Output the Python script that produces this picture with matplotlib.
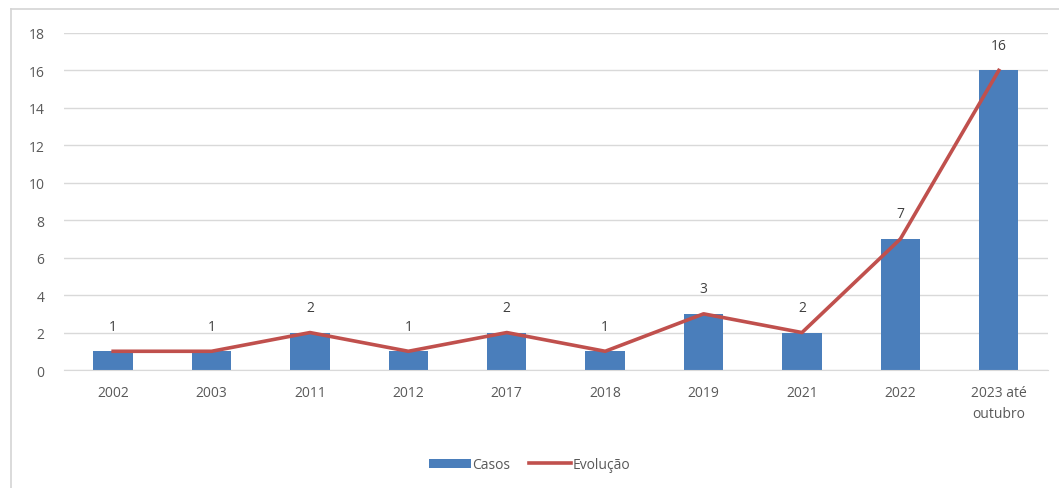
import matplotlib.pyplot as plt
from matplotlib.lines import Line2D

anos = ['2002', '2003', '2011', '2012', '2017', '2018', '2019', '2021', '2022', '2023 até\noutubro']
casos = [1, 1, 2, 1, 2, 1, 3, 2, 7, 16]
y_ticks = [0, 2, 4, 6, 8, 10, 12, 14, 16, 18]

plt.rcParams['font.family'] = ['Open Sans', 'DejaVu Sans']

fig = plt.figure(figsize=(10.59, 4.89), dpi=100)
ax = fig.add_axes([0.0604, 0.2413, 0.9292, 0.6892])

x = list(range(len(anos)))
bars = ax.bar(x, casos, width=0.4, color='#4a7ebb', label='Casos', zorder=2)
line, = ax.plot(x, casos, color='#c0504d', linewidth=2.6, label='Evolução', zorder=3)

for xi, v in zip(x, casos):
    ax.annotate(str(v), (xi, v), xytext=(0, 18), textcoords='offset points',
                ha='center', va='center', fontsize=10, color='#404040')

ax.set_xlim(-0.5, len(anos) - 0.5)
ax.set_ylim(0, 18)
ax.set_yticks(y_ticks)
ax.set_xticks(x)
ax.set_xticklabels(anos, linespacing=1.5)
ax.tick_params(axis='both', length=0, labelsize=10, labelcolor='#595959')
ax.tick_params(axis='y', pad=14)
ax.tick_params(axis='x', pad=11)
ax.grid(axis='y', color='#d9d9d9', linewidth=1, zorder=0)
ax.set_axisbelow(True)
for s in ['top', 'right', 'left']:
    ax.spines[s].set_visible(False)
ax.spines['bottom'].set_color('#d9d9d9')

fig.legend([bars, line], ['Casos', 'Evolução'], loc='center',
           bbox_to_anchor=(0.5, 0.048), ncol=2, frameon=False,
           fontsize=10, labelcolor='#595959', handlelength=3.0, handleheight=0.6,
           handletextpad=0.1, columnspacing=1.4)

# moldura do gráfico (só topo e esquerda aparecem)
fig.add_artist(Line2D([0.0105, 1.0], [0.979, 0.979], transform=fig.transFigure,
                      color='#d4d4d4', linewidth=1.2))
fig.add_artist(Line2D([0.0105, 0.0105], [0.0, 0.979], transform=fig.transFigure,
                      color='#d4d4d4', linewidth=1.2))

fig.savefig('out.png', dpi=100)
